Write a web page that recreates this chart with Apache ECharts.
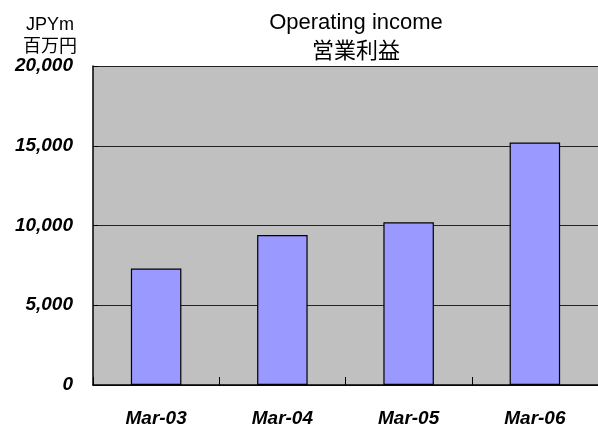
<!DOCTYPE html>
<html>
<head>
<meta charset="utf-8">
<script src="https://cdn.jsdelivr.net/npm/echarts@6/dist/echarts.min.js"></script>
<style>
  html, body { margin: 0; padding: 0; background: #fff; }
  #chart { width: 598px; height: 429px; }
</style>
</head>
<body>
<div id="chart"></div>
<script>
const periods = ['Mar-03', 'Mar-04', 'Mar-05', 'Mar-06'];
const operatingIncome = [7300, 9400, 10200, 15200];
const yTicks = [0, 5000, 10000, 15000, 20000];

const chart = echarts.init(document.getElementById('chart'));

// bold italic Arial-like labels used on both axes
const labelFont = {
  fontFamily: 'Liberation Sans, Arial, sans-serif',
  fontWeight: 'bold',
  fontStyle: 'italic',
  fontSize: 19,
  color: '#000'
};

chart.setOption({
  animation: false,
  backgroundColor: '#fff',
  title: [
    {
      text: 'Operating income\n営業利益',
      left: 351,
      top: 3,
      textAlign: 'center',
      textStyle: {
        fontFamily: 'Liberation Sans, "Noto Sans CJK JP", sans-serif',
        fontWeight: 'normal',
        fontSize: 22,
        lineHeight: 29,
        color: '#000'
      }
    },
    {
      text: 'JPYm\n百万円',
      left: 45,
      top: 9,
      textAlign: 'center',
      textStyle: {
        fontFamily: 'Liberation Sans, "Noto Sans CJK JP", sans-serif',
        fontWeight: 'normal',
        fontSize: 18,
        lineHeight: 22,
        color: '#000'
      }
    }
  ],
  grid: {
    left: 93,
    top: 66,
    width: 512,
    height: 319,
    show: true,
    backgroundColor: '#c0c0c0',
    borderWidth: 0
  },
  xAxis: {
    type: 'category',
    data: periods,
    axisLine: { lineStyle: { color: '#000', width: 1.5 } },
    axisTick: { show: true, inside: true, length: 8, lineStyle: { color: '#000' } },
    axisLabel: Object.assign({ margin: 24 }, labelFont)
  },
  yAxis: {
    type: 'value',
    min: 0,
    max: 20000,
    interval: 5000,
    axisLine: { show: true, lineStyle: { color: '#000', width: 1.5 } },
    axisTick: { show: true, inside: true, length: 5, lineStyle: { color: '#000' } },
    splitLine: { lineStyle: { color: '#222', width: 1 } },
    axisLabel: Object.assign({
      margin: 20,
      padding: [4, 0, 0, 0],
      customValues: yTicks,
      formatter: v => v.toLocaleString('en-US')
    }, labelFont)
  },
  series: [
    {
      type: 'bar',
      data: operatingIncome,
      barWidth: '40%',
      itemStyle: { color: '#9999ff', borderColor: '#000', borderWidth: 1.2 }
    }
  ]
});
</script>
</body>
</html>
